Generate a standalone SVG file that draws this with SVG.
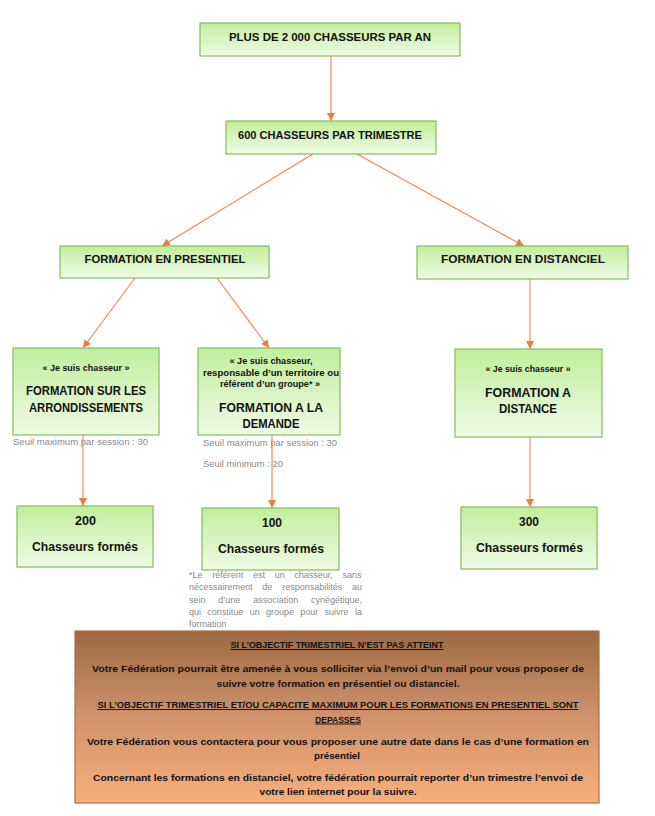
<svg xmlns="http://www.w3.org/2000/svg" width="655" height="816" viewBox="0 0 655 816">
<defs>
<linearGradient id="gGreen" x1="0" y1="0" x2="0" y2="1">
<stop offset="0" stop-color="#C2EE9C"/>
<stop offset="1" stop-color="#EEFBE6"/>
</linearGradient>
<linearGradient id="gOrange" x1="0" y1="0" x2="0" y2="1">
<stop offset="0" stop-color="#9A6A45"/>
<stop offset="0.5" stop-color="#D1926A"/>
<stop offset="1" stop-color="#F8AF7D"/>
</linearGradient>
<marker id="arr" viewBox="0 0 10 10" refX="10" refY="5" markerWidth="8" markerHeight="8" markerUnits="userSpaceOnUse" orient="auto">
<path d="M0,0 L10,5 L0,10 z" fill="#EC7C3C"/>
</marker>
</defs>
<style>
.box{fill:url(#gGreen);stroke:#86BC5A;stroke-width:1.2}
.t{font-family:"Liberation Sans",Arial,sans-serif;font-weight:bold;fill:#111;text-anchor:middle}
.h{font-size:11.5px}
.s{font-size:9.5px}
.b{font-size:12.5px}
.n{font-size:13px}
.g{font-family:"Liberation Sans",Arial,sans-serif;font-size:9px;fill:#8a8a8a}
.c{stroke:#EC8352;stroke-width:1.1;fill:none;marker-end:url(#arr)}
.o{font-size:9.6px}
</style>
<rect width="655" height="816" fill="#fff"/>

<g id="n1"><rect class="box" x="200" y="23" width="260" height="33"/>
<text class="t h" x="330" y="40.5" textLength="202" lengthAdjust="spacingAndGlyphs">PLUS DE 2 000 CHASSEURS PAR AN</text></g>

<g id="n2"><rect class="box" x="226" y="121" width="210" height="33"/>
<text class="t h" x="330" y="138.5" textLength="184" lengthAdjust="spacingAndGlyphs">600 CHASSEURS PAR TRIMESTRE</text></g>

<g id="n3"><rect class="box" x="60" y="246" width="209" height="32"/>
<text class="t h" x="165" y="262.5" textLength="161" lengthAdjust="spacingAndGlyphs">FORMATION EN PRESENTIEL</text></g>

<g id="n4"><rect class="box" x="417" y="246" width="211" height="33"/>
<text class="t h" x="523" y="263" textLength="164" lengthAdjust="spacingAndGlyphs">FORMATION EN DISTANCIEL</text></g>

<g id="n5"><rect class="box" x="13" y="348" width="146" height="87"/>
<text class="t s" x="86" y="370.5" textLength="87" lengthAdjust="spacingAndGlyphs">« Je suis chasseur »</text>
<text class="t b" x="86" y="394.5" textLength="120" lengthAdjust="spacingAndGlyphs">FORMATION SUR LES</text>
<text class="t b" x="86" y="411.5" textLength="114" lengthAdjust="spacingAndGlyphs">ARRONDISSEMENTS</text></g>

<g id="n6"><rect class="box" x="198" y="348" width="142" height="87"/>
<text class="t s" x="271" y="363.5" textLength="83" lengthAdjust="spacingAndGlyphs">« Je suis chasseur,</text>
<text class="t s" x="271" y="375.5" textLength="136" lengthAdjust="spacingAndGlyphs">responsable d’un territoire ou</text>
<text class="t s" x="270" y="386.5" textLength="100" lengthAdjust="spacingAndGlyphs">référent d’un groupe* »</text>
<text class="t b" x="271" y="411.5" textLength="104" lengthAdjust="spacingAndGlyphs">FORMATION A LA</text>
<text class="t b" x="271" y="427.5" textLength="57" lengthAdjust="spacingAndGlyphs">DEMANDE</text></g>

<g id="n7"><rect class="box" x="455" y="349" width="147" height="88"/>
<text class="t s" x="528" y="371.5" textLength="85" lengthAdjust="spacingAndGlyphs">« Je suis chasseur »</text>
<text class="t b" x="528" y="396.5" textLength="86" lengthAdjust="spacingAndGlyphs">FORMATION A</text>
<text class="t b" x="528" y="412.5" textLength="58" lengthAdjust="spacingAndGlyphs">DISTANCE</text></g>

<g id="n8"><rect class="box" x="17" y="506" width="136" height="61"/>
<text class="t n" x="85.5" y="524.5" textLength="21" lengthAdjust="spacingAndGlyphs">200</text>
<text class="t n" x="85" y="550.5" textLength="106" lengthAdjust="spacingAndGlyphs">Chasseurs formés</text></g>

<g id="n9"><rect class="box" x="202" y="508" width="137" height="62"/>
<text class="t n" x="272" y="526.5" textLength="20" lengthAdjust="spacingAndGlyphs">100</text>
<text class="t n" x="271" y="552.5" textLength="106" lengthAdjust="spacingAndGlyphs">Chasseurs formés</text></g>

<g id="n10"><rect class="box" x="461" y="507" width="136" height="62"/>
<text class="t n" x="529" y="525.5" textLength="20" lengthAdjust="spacingAndGlyphs">300</text>
<text class="t n" x="529.5" y="551.5" textLength="107" lengthAdjust="spacingAndGlyphs">Chasseurs formés</text></g>

<g id="notes">
<text class="g" x="13" y="444.5" textLength="135" lengthAdjust="spacingAndGlyphs">Seuil maximum par session : 30</text>
<text class="g" x="203" y="445.5" textLength="134" lengthAdjust="spacingAndGlyphs">Seuil maximum par session : 30</text>
<text class="g" x="203" y="467" textLength="80" lengthAdjust="spacingAndGlyphs">Seuil minimum : 20</text>
<text class="g" x="189" y="577.5" word-spacing="7.2">*Le référent est un chasseur, sans</text>
<text class="g" x="189" y="590" word-spacing="7.3">nécessairement de responsabilités au</text>
<text class="g" x="189" y="602.5" word-spacing="10.3">sein d’une association cynégétique,</text>
<text class="g" x="189" y="615" word-spacing="3.8">qui constitue un groupe pour suivre la</text>
<text class="g" x="189" y="627">formation</text>
</g>

<g id="connectors">
<line class="c" x1="331" y1="56" x2="331" y2="121"/>
<line class="c" x1="313" y1="154" x2="162" y2="246"/>
<line class="c" x1="357" y1="154" x2="524" y2="246"/>
<line class="c" x1="135" y1="278" x2="83" y2="348"/>
<line class="c" x1="217" y1="278" x2="269" y2="348"/>
<line class="c" x1="530" y1="279" x2="530" y2="349"/>
<line class="c" x1="83" y1="435" x2="83" y2="506"/>
<line class="c" x1="272" y1="435" x2="272" y2="508"/>
<line class="c" x1="530" y1="437" x2="530" y2="507"/>
</g>

<g id="info">
<rect x="75" y="631" width="524" height="172" fill="url(#gOrange)" stroke="#B06E3C" stroke-width="1.2"/>
<text class="t o" x="337" y="648" textLength="213" lengthAdjust="spacingAndGlyphs" text-decoration="underline">SI L’OBJECTIF TRIMESTRIEL N’EST PAS ATTEINT</text>
<text class="t o" x="338" y="672" textLength="492" lengthAdjust="spacingAndGlyphs">Votre Fédération pourrait être amenée à vous solliciter via l’envoi d’un mail pour vous proposer de</text>
<text class="t o" x="338" y="686.5" textLength="243" lengthAdjust="spacingAndGlyphs">suivre votre formation en présentiel ou distanciel.</text>
<text class="t o" x="338" y="708" textLength="481" lengthAdjust="spacingAndGlyphs" text-decoration="underline">SI L’OBJECTIF TRIMESTRIEL ET/OU CAPACITE MAXIMUM POUR LES FORMATIONS EN PRESENTIEL SONT</text>
<text class="t o" x="338" y="722.5" textLength="46" lengthAdjust="spacingAndGlyphs" text-decoration="underline">DEPASSES</text>
<text class="t o" x="338" y="745" textLength="502" lengthAdjust="spacingAndGlyphs">Votre Fédération vous contactera pour vous proposer une autre date dans le cas d’une formation en</text>
<text class="t o" x="337" y="758.5" textLength="46" lengthAdjust="spacingAndGlyphs">présentiel</text>
<text class="t o" x="338" y="780.5" textLength="490" lengthAdjust="spacingAndGlyphs">Concernant les formations en distanciel, votre fédération pourrait reporter d’un trimestre l’envoi de</text>
<text class="t o" x="338" y="794.5" textLength="157" lengthAdjust="spacingAndGlyphs">votre lien internet pour la suivre.</text>
</g>
</svg>
